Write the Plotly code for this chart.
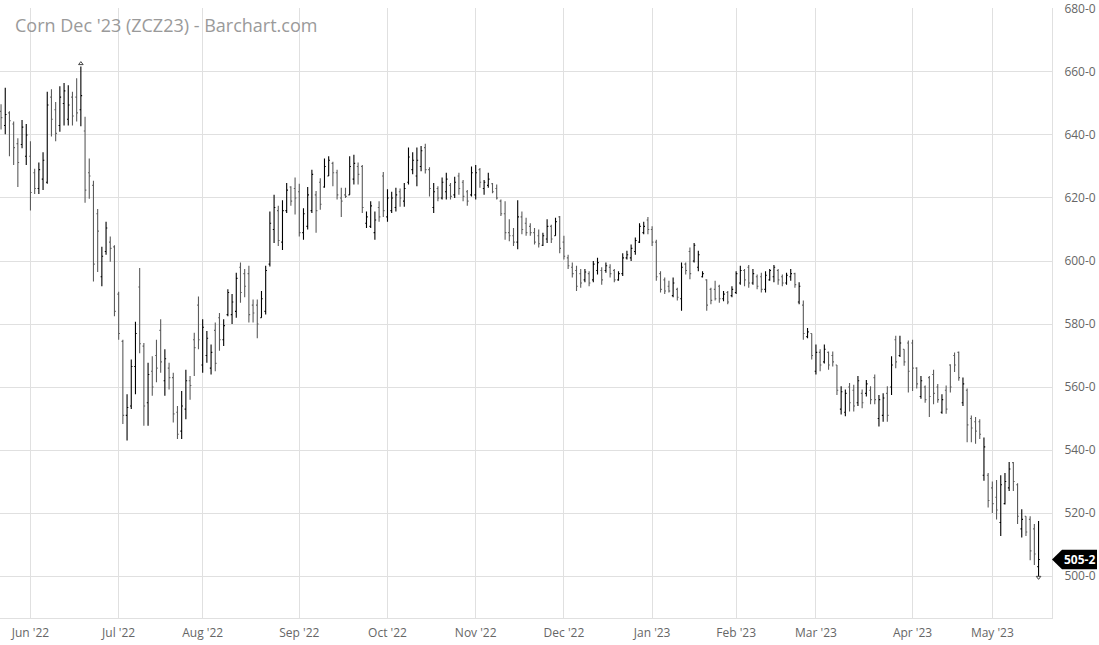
import pandas as pd
import plotly.graph_objects as go

TITLE = "Corn Dec '23 (ZCZ23) - Barchart.com"
START, END = "2022-05-20", "2023-05-16"
HOLIDAYS = ["2022-05-30", "2022-06-20", "2022-07-04", "2022-09-05", "2022-11-24",
            "2022-12-26", "2023-01-02", "2023-01-16", "2023-02-20", "2023-04-07"]

opens = [
    647.5, 643.0, 647.0, 643.5, 637.25, 637.0, 633.25, 633.25, 628.0, 623.0,
    626.0, 625.0, 652.0, 648.0, 643.0, 650.0, 645.0, 652.0, 652.0, 648.0,
    641.25, 628.0, 624.0, 615.0, 595.0, 603.0, 606.0, 604.5, 589.5, 574.5,
    551.0, 554.0, 566.5, 591.75, 573.0, 555.0, 565.0, 570.0, 578.0, 562.0,
    566.0, 563.0, 552.0, 546.0, 553.0, 562.0, 575.0, 586.0, 567.0, 570.0,
    566.0, 578.0, 582.0, 575.0, 583.0, 583.0, 584.0, 598.0, 596.0, 596.0,
    586.0, 586.0, 582.0, 584.0, 599.0, 610.0, 616.0, 606.0, 616.0, 623.5,
    623.0, 622.0, 609.0, 611.0, 616.0, 621.0, 625.0, 623.5, 627.0, 631.0,
    628.0, 620.0, 621.0, 621.0, 626.0, 630.0, 630.0, 612.0, 611.0, 609.0,
    617.0, 627.0, 614.0, 616.0, 617.0, 622.0, 619.0, 625.0, 629.0, 627.0,
    630.0, 636.0, 629.0, 617.0, 623.0, 620.0, 622.0, 624.0, 621.0, 627.0,
    625.0, 622.0, 621.0, 621.0, 629.0, 623.0, 624.0, 624.5, 623.0, 619.0,
    615.0, 609.0, 608.0, 606.0, 614.0, 612.0, 611.0, 609.0, 608.0, 605.0,
    607.0, 611.0, 608.0, 614.0, 606.0, 601.0, 598.0, 597.0, 596.0, 594.0,
    596.0, 594.0, 597.0, 597.0, 597.0, 598.0, 597.0, 594.0, 596.0, 601.0,
    601.0, 603.0, 606.0, 609.0, 613.0, 610.0, 606.0, 596.0, 594.0, 592.0,
    589.0, 591.0, 588.0, 599.0, 603.0, 600.0, 598.0, 595.0, 594.0, 591.0,
    591.0, 592.0, 588.0, 590.0, 589.0, 590.0, 593.0, 597.0, 598.0, 593.0,
    595.0, 595.0, 591.0, 594.0, 595.0, 597.0, 595.0, 593.0, 595.0, 596.0,
    587.0, 586.0, 576.0, 577.0, 565.0, 571.0, 568.0, 571.0, 570.0, 567.0,
    553.0, 552.0, 560.0, 559.0, 555.0, 558.0, 558.0, 559.0, 563.0, 550.0,
    551.0, 558.0, 560.0, 575.0, 570.0, 572.0, 574.0, 574.0, 566.0, 557.0,
    560.0, 563.0, 564.0, 560.0, 552.0, 559.0, 567.0, 570.0, 571.0, 555.0,
    559.0, 550.0, 549.0, 549.0, 532.0, 532.0, 528.0, 525.0, 517.0, 523.0,
    528.0, 536.0, 529.0, 515.0, 519.0, 518.0, 515.0, 503.0,
]
highs = [
    649.75, 655.0, 647.5, 644.25, 639.0, 644.75, 643.5, 638.0, 629.25, 631.25,
    634.5, 653.75, 654.5, 650.5, 655.5, 656.5, 655.75, 653.75, 658.0, 661.75,
    645.75, 632.5, 625.5, 616.5, 604.5, 612.5, 607.75, 605.0, 590.25, 575.0,
    557.75, 568.75, 580.75, 597.75, 574.0, 567.75, 569.75, 575.0, 581.5, 572.0,
    567.75, 564.5, 554.0, 558.75, 565.5, 563.5, 577.25, 588.75, 581.5, 577.75,
    573.5, 580.5, 583.5, 581.5, 591.0, 589.5, 596.25, 599.5, 597.5, 598.5,
    587.75, 587.75, 590.5, 598.5, 615.75, 621.0, 617.5, 619.25, 624.75, 623.75,
    626.5, 624.5, 616.75, 623.5, 629.0, 622.25, 626.25, 632.5, 633.25, 631.5,
    629.0, 623.25, 623.25, 633.25, 633.75, 631.25, 630.5, 615.75, 619.0, 615.75,
    619.0, 628.25, 622.75, 622.0, 623.25, 623.0, 624.75, 636.0, 634.5, 636.0,
    636.5, 637.25, 629.75, 624.75, 623.75, 626.5, 628.0, 624.75, 626.75, 628.0,
    625.75, 622.5, 630.0, 630.5, 629.5, 625.75, 628.0, 624.75, 624.25, 619.5,
    619.0, 613.25, 610.5, 619.25, 615.75, 613.75, 612.0, 610.5, 610.0, 609.0,
    613.25, 611.5, 613.75, 614.25, 608.0, 602.0, 599.5, 598.5, 597.5, 597.5,
    596.75, 600.0, 601.0, 598.0, 599.5, 599.0, 597.5, 596.75, 602.5, 603.25,
    605.25, 607.5, 612.0, 612.5, 614.0, 611.0, 606.75, 596.75, 594.75, 593.75,
    594.75, 591.5, 599.5, 599.5, 604.25, 605.75, 603.25, 596.75, 594.25, 591.5,
    593.75, 592.5, 590.5, 590.5, 592.0, 596.75, 598.5, 597.5, 598.75, 597.5,
    595.75, 596.25, 596.75, 597.5, 598.75, 597.5, 595.75, 596.25, 597.5, 596.25,
    593.25, 587.5, 578.75, 577.0, 573.5, 572.0, 573.5, 571.25, 571.25, 567.0,
    560.25, 559.25, 561.25, 560.75, 563.5, 559.25, 562.25, 560.25, 564.0, 557.5,
    558.0, 560.25, 569.75, 576.25, 576.25, 572.0, 574.75, 575.0, 566.25, 563.5,
    560.5, 563.5, 565.5, 561.0, 557.75, 560.5, 567.25, 571.0, 571.25, 563.0,
    559.5, 551.0, 550.5, 549.75, 544.0, 532.75, 530.0, 530.5, 532.0, 532.75,
    536.25, 536.25, 529.5, 521.25, 519.0, 519.0, 516.5, 517.5,
]
lows = [
    641.75, 640.25, 633.25, 630.5, 623.5, 635.75, 630.5, 616.0, 621.25, 621.25,
    622.5, 624.5, 639.5, 638.0, 641.0, 643.0, 643.0, 643.0, 644.25, 642.75,
    618.5, 619.75, 593.5, 596.5, 592.0, 602.0, 599.75, 582.5, 575.0, 548.25,
    543.0, 553.0, 557.75, 570.75, 547.75, 547.75, 557.25, 561.5, 564.5, 557.25,
    559.25, 548.75, 543.5, 543.5, 549.75, 556.0, 563.5, 572.0, 564.5, 567.75,
    564.0, 565.0, 571.5, 573.0, 582.5, 580.0, 582.0, 586.75, 588.5, 580.5,
    580.5, 575.5, 582.0, 583.0, 598.25, 605.75, 604.75, 603.5, 615.25, 617.5,
    614.75, 607.75, 606.75, 610.0, 615.25, 609.0, 616.25, 623.25, 627.0, 623.75,
    619.5, 614.0, 620.0, 621.0, 624.25, 624.25, 615.25, 610.5, 610.5, 606.75,
    612.5, 614.0, 612.5, 615.25, 615.75, 617.25, 617.25, 624.25, 627.5, 623.75,
    628.5, 627.75, 620.5, 615.25, 619.0, 619.5, 619.5, 619.5, 620.0, 621.0,
    619.0, 617.5, 620.5, 619.5, 623.25, 621.0, 623.25, 621.5, 619.5, 614.25,
    606.75, 606.25, 604.75, 603.75, 608.5, 608.0, 608.0, 605.25, 604.25, 604.75,
    605.75, 605.75, 608.0, 602.5, 600.5, 597.5, 594.75, 590.5, 591.5, 593.25,
    592.0, 593.25, 595.75, 592.5, 596.25, 594.75, 593.25, 593.75, 595.25, 600.5,
    600.0, 602.0, 605.75, 608.5, 608.5, 604.75, 593.75, 590.0, 589.5, 590.0,
    588.5, 587.5, 584.25, 595.75, 594.25, 599.5, 596.75, 594.75, 584.25, 586.25,
    587.5, 586.75, 587.25, 586.25, 588.5, 589.5, 592.5, 592.0, 591.5, 592.5,
    591.0, 590.0, 590.0, 593.75, 593.25, 592.5, 592.0, 592.5, 593.75, 591.5,
    586.25, 575.0, 575.5, 568.75, 564.0, 565.0, 567.5, 565.5, 566.5, 557.5,
    551.25, 550.75, 552.25, 552.25, 554.0, 553.25, 557.0, 554.5, 554.5, 547.5,
    549.0, 549.0, 557.5, 566.0, 569.5, 566.75, 558.25, 558.75, 559.5, 556.25,
    555.0, 550.5, 554.5, 555.0, 551.5, 551.5, 558.25, 564.75, 562.0, 554.0,
    542.5, 542.5, 542.0, 543.5, 530.25, 521.75, 520.0, 518.0, 512.75, 522.75,
    527.0, 527.0, 516.5, 512.25, 512.75, 505.0, 503.5, 500.0,
]
closes = [
    645.5, 646.5, 644.5, 636.0, 631.25, 642.5, 640.0, 621.75, 623.0, 629.0,
    632.0, 649.5, 645.0, 640.5, 652.0, 654.0, 649.5, 646.0, 647.0, 652.5,
    622.5, 627.0, 599.0, 609.5, 601.5, 610.5, 604.0, 584.0, 577.0, 551.0,
    553.5, 566.5, 577.0, 573.75, 554.0, 564.0, 560.0, 566.0, 568.0, 569.0,
    563.0, 551.5, 545.0, 554.0, 562.0, 560.5, 572.5, 575.0, 579.0, 575.5,
    571.0, 567.5, 575.0, 579.5, 590.0, 587.0, 594.5, 590.0, 592.0, 583.0,
    583.5, 580.0, 588.0, 597.0, 612.0, 617.0, 606.5, 616.0, 622.5, 619.0,
    620.0, 609.0, 615.0, 621.0, 627.5, 616.0, 618.0, 630.0, 632.0, 628.0,
    621.0, 619.0, 620.5, 630.0, 631.0, 627.5, 617.0, 614.0, 617.5, 613.0,
    614.0, 616.0, 620.0, 620.0, 621.0, 620.0, 623.0, 633.0, 632.0, 632.0,
    635.0, 629.0, 623.0, 622.0, 620.0, 625.0, 626.0, 620.5, 625.0, 623.0,
    620.5, 619.0, 628.0, 628.0, 625.0, 625.0, 626.0, 622.0, 620.0, 615.0,
    609.0, 608.0, 606.0, 614.0, 610.0, 609.0, 609.0, 606.0, 605.5, 608.0,
    611.0, 607.0, 612.5, 604.0, 601.5, 598.5, 596.0, 592.0, 593.0, 596.5,
    593.0, 599.0, 599.5, 594.0, 598.5, 596.0, 594.0, 596.0, 601.0, 602.0,
    604.0, 606.5, 611.0, 611.0, 610.0, 606.0, 595.0, 591.0, 590.5, 590.5,
    593.0, 588.5, 598.0, 597.0, 596.0, 605.0, 602.0, 596.0, 586.0, 587.5,
    588.0, 588.0, 589.5, 587.0, 591.0, 596.0, 597.0, 594.0, 593.0, 596.0,
    592.0, 591.0, 595.5, 597.0, 598.0, 594.0, 593.0, 595.5, 596.0, 592.5,
    592.0, 577.0, 577.5, 570.0, 571.0, 567.0, 572.0, 567.0, 568.0, 559.0,
    558.5, 558.0, 555.0, 554.0, 562.0, 555.0, 561.0, 556.0, 556.0, 556.0,
    556.5, 551.0, 567.0, 568.0, 574.0, 568.0, 565.0, 566.0, 561.0, 562.0,
    556.0, 557.0, 558.0, 556.0, 556.0, 553.0, 560.0, 567.0, 563.0, 561.0,
    548.0, 547.0, 546.0, 545.0, 541.0, 524.0, 523.0, 521.0, 529.0, 530.0,
    534.0, 530.0, 519.0, 518.0, 514.0, 508.0, 507.0, 505.25,
]

y_ticks = [500, 520, 540, 560, 580, 600, 620, 640, 660, 680]
y_tick_text = ["500-0", "520-0", "540-0", "560-0", "580-0", "600-0",
               "620-0", "640-0", "660-0", "680-0"]
last_label = "505-2"

# trading-day calendar
days = [d for d in pd.bdate_range(START, END) if d.strftime("%Y-%m-%d") not in HOLIDAYS]
n = min(len(days), len(opens))
days = days[:n]
dates = [d.strftime("%Y-%m-%d") for d in days]

# month ticks at first trading day of each month
tick_vals, tick_text = [], []
seen = set()
for d in days:
    key = (d.year, d.month)
    if key not in seen:
        seen.add(key)
        if d.day <= 5 and not (d.year == 2022 and d.month == 5):
            tick_vals.append(d.strftime("%Y-%m-%d"))
            tick_text.append(d.strftime("%b '%y"))

fig = go.Figure()
fig.add_trace(go.Ohlc(
    x=dates, open=opens[:n], high=highs[:n], low=lows[:n], close=closes[:n],
    increasing=dict(line=dict(color="#000000", width=1.1)),
    decreasing=dict(line=dict(color="#5c5c5c", width=1.1)),
    tickwidth=0.3, showlegend=False, hoverinfo="x+y",
))

# contract high / low markers
hi_i = max(range(n), key=lambda i: highs[i])
lo_i = min(range(n), key=lambda i: lows[i])
fig.add_trace(go.Scatter(
    x=[dates[hi_i]], y=[highs[hi_i] + 0.9], mode="markers",
    marker=dict(symbol="triangle-up-open", size=4, color="#444", line=dict(width=1)),
    showlegend=False, hoverinfo="skip"))
fig.add_trace(go.Scatter(
    x=[dates[lo_i]], y=[lows[lo_i] - 0.4], mode="markers",
    marker=dict(symbol="triangle-down-open", size=4, color="#444", line=dict(width=1)),
    showlegend=False, hoverinfo="skip"))

grid = "#e0e0e0"
fig.update_layout(
    width=1099, height=645,
    margin=dict(l=0, r=47, t=5, b=27),
    paper_bgcolor="white", plot_bgcolor="white",
    font=dict(family="Open Sans, Noto Sans, sans-serif", size=12, color="#666666"),
    xaxis=dict(
        type="category", range=[-0.25, 250.2], rangeslider=dict(visible=False),
        tickmode="array", tickvals=tick_vals, ticktext=tick_text,
        showgrid=True, gridcolor=grid, gridwidth=1,
        ticks="outside", ticklen=4, tickcolor="rgba(0,0,0,0)",
        showline=True, linecolor=grid, linewidth=1, mirror=False,
        tickfont=dict(size=12, color="#666666"),
    ),
    yaxis=dict(
        side="right", range=[486.7, 680.3],
        tickmode="array", tickvals=y_ticks, ticktext=y_tick_text,
        showgrid=True, gridcolor=grid, gridwidth=1, zeroline=False,
        ticks="outside", ticklen=9, tickcolor="rgba(0,0,0,0)",
        showline=True, linecolor=grid, linewidth=1,
        ticklabeloverflow="allow",
        tickfont=dict(size=12, color="#666666"),
    ),
)

fig.add_annotation(
    text=TITLE, xref="paper", yref="paper", x=0, y=1, xanchor="left", yanchor="top",
    xshift=13, yshift=-3, showarrow=False,
    font=dict(size=18, color="#9a9a9a", family="Open Sans, Noto Sans, sans-serif"))

# last price tag
last = closes[n - 1]
h = 3.1
fig.add_shape(
    type="path", xref="paper", yref="y",
    path=(f"M 1.0,{last} L 1.0095,{last + h} L 1.0428,{last + h} "
          f"L 1.0428,{last - h} L 1.0095,{last - h} Z"),
    fillcolor="black", line=dict(color="black", width=0), layer="above")
fig.add_annotation(
    text=f"<b>{last_label}</b>", xref="paper", yref="y", x=1.0265, y=last,
    showarrow=False, font=dict(size=12, color="white", family="Open Sans, sans-serif"),
    xanchor="center", yanchor="middle")

fig.write_html("out.html", config={"displayModeBar": False},
               post_script="document.body.style.margin='0px';")
